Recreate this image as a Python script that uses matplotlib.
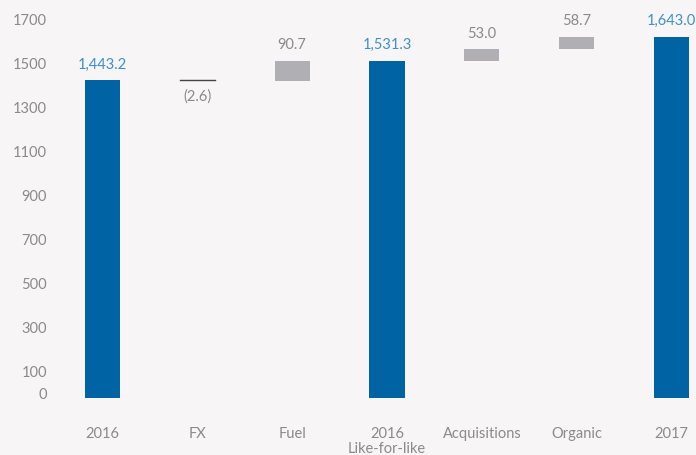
import matplotlib.pyplot as plt
import matplotlib.transforms as mtransforms

# waterfall data
categories = ['2016', 'FX', 'Fuel', '2016\nLike-for-like', 'Acquisitions', 'Organic', '2017']
changes = [1443.2, -2.6, 90.7, 1531.3, 53.0, 58.7, 1643.0]
is_total = [True, False, False, True, False, False, True]
value_labels = ['1,443.2', '(2.6)', '90.7', '1,531.3', '53.0', '58.7', '1,643.0']
yticks = [0, 100, 300, 500, 700, 900, 1100, 1300, 1500, 1700]

bg = '#f7f5f6'
blue = '#0063a3'
blue_txt = '#3f8fc9'
grey = '#b0afb3'
txt = '#8a8a8a'

plt.rcParams['font.family'] = ['Lato', 'DejaVu Sans']

fig = plt.figure(figsize=(6.96, 4.55), dpi=100, facecolor=bg)
ax = fig.add_axes([40 / 696, (455 - 398) / 455, 656 / 696, 374 / 455])
ax.set_facecolor(bg)

width = 0.37
running = 0.0
for i, (cat, ch, tot, lab) in enumerate(zip(categories, changes, is_total, value_labels)):
    if tot:
        ax.bar(i, ch, width=width, color=blue, zorder=2)
        running = ch
        ax.text(i, ch + 72, lab, ha='center', va='center', color=blue_txt, fontsize=10.5)
    elif abs(ch) < 10:
        # tiny change drawn as a line
        ax.plot([i - width / 2, i + width / 2], [running, running], color='#444444', lw=1)
        ax.text(i, running - 72, lab, ha='center', va='center', color=txt, fontsize=10.5)
        running += ch
    else:
        ax.bar(i, ch, bottom=running, width=width, color=grey, zorder=2)
        ax.text(i, running + ch + 72, lab, ha='center', va='center', color=txt, fontsize=10.5)
        running += ch

ax.set_xlim(-0.659, 6.258)
ax.set_ylim(0, 1700)

# y labels sit a little above their gridline positions
ytrans = mtransforms.blended_transform_factory(fig.transFigure, ax.transData) + \
    mtransforms.ScaledTranslation(0, 3 / 100, fig.dpi_scale_trans)
ax.set_yticks([])
for t in yticks:
    ax.text(47 / 696, t, str(t), transform=ytrans, ha='right', va='center',
            color=txt, fontsize=10.5, clip_on=False)

ax.set_xticks(range(len(categories)))
ax.set_xticklabels(categories, linespacing=1.05)
ax.tick_params(axis='x', length=0, colors=txt, labelsize=10.5, pad=21)
for lbl in ax.get_xticklabels():
    lbl.set_va('top')
for s in ax.spines.values():
    s.set_visible(False)

fig.savefig('out.png', dpi=100, facecolor=bg)
